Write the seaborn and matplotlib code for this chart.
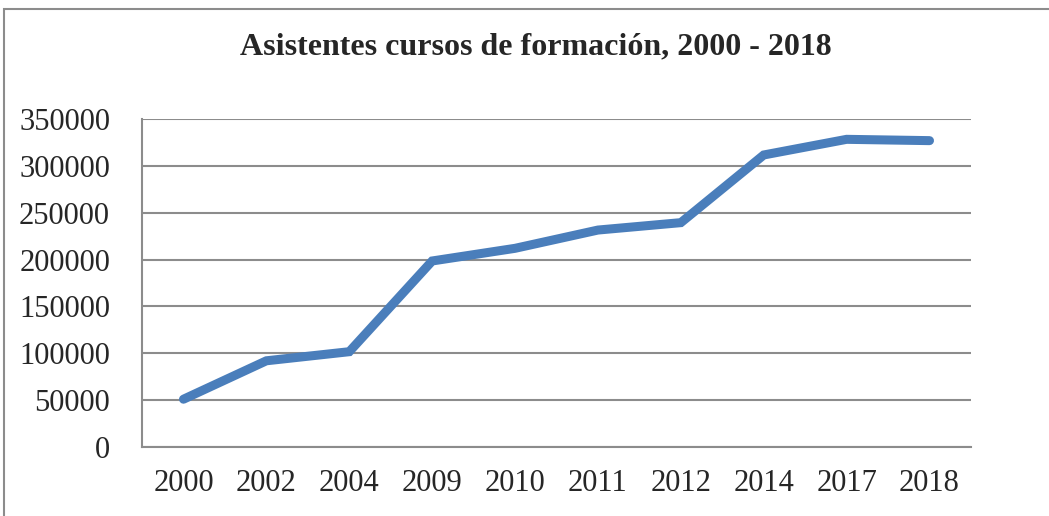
import pandas as pd
import matplotlib.pyplot as plt
import seaborn as sns
from matplotlib.patches import Rectangle
from matplotlib.ticker import FixedLocator

# --- datos ---
years = ['2000', '2002', '2004', '2009', '2010', '2011', '2012', '2014', '2017', '2018']
asistentes = [51000, 92000, 101700, 198500, 212000, 231500, 239400, 311600, 328300, 326900]
y_ticks = [0, 50000, 100000, 150000, 200000, 250000, 300000, 350000]

df = pd.DataFrame({'Año': years, 'Asistentes': asistentes})

sns.set_style("white")
plt.rcParams['font.family'] = ['Liberation Serif', 'DejaVu Serif']

fig = plt.figure(figsize=(10.49, 5.16), dpi=100)
ax = fig.add_axes([0.1354, 0.1337, 0.7902, 0.6357])

# marco del gráfico
fig.patches.append(Rectangle((4 / 1049, -0.1), 1.2, 1 - 9 / 516 + 0.1,
                             transform=fig.transFigure, fill=False,
                             edgecolor='#8c8c8c', linewidth=1.5))

sns.lineplot(data=df, x='Año', y='Asistentes', ax=ax, color='#4a7ebb',
             linewidth=6.5, solid_capstyle='round', solid_joinstyle='miter', sort=False)

grid_c = '#8c8c8c'
ax.set_xlim(-0.5, len(years) - 0.5)
ax.set_ylim(0, 350000)
ax.set_yticks(y_ticks)
ax.set_yticklabels([str(v) for v in y_ticks])
ax.yaxis.grid(True, color=grid_c, linewidth=1.5)
ax.set_axisbelow(True)

ax.set_xticks(range(len(years)))
ax.set_xticklabels(years)
ax.xaxis.set_minor_locator(FixedLocator([i - 0.5 for i in range(len(years) + 1)]))
ax.tick_params(axis='x', which='major', length=0, pad=16, labelsize=22)
ax.tick_params(axis='x', which='minor', length=8, width=1.5, color=grid_c, direction='out')
ax.tick_params(axis='y', length=8, width=1.5, color=grid_c, direction='out', pad=15, labelsize=22)

for side in ['top', 'right']:
    ax.spines[side].set_visible(False)
for side in ['left', 'bottom']:
    ax.spines[side].set_color(grid_c)
    ax.spines[side].set_linewidth(1.5)

ax.set_xlabel('')
ax.set_ylabel('')
fig.text(0.511, 1 - 47 / 516, 'Asistentes cursos de formación, 2000 - 2018',
         ha='center', va='center', fontsize=23, fontweight='bold')

fig.savefig('out.png', dpi=100)
